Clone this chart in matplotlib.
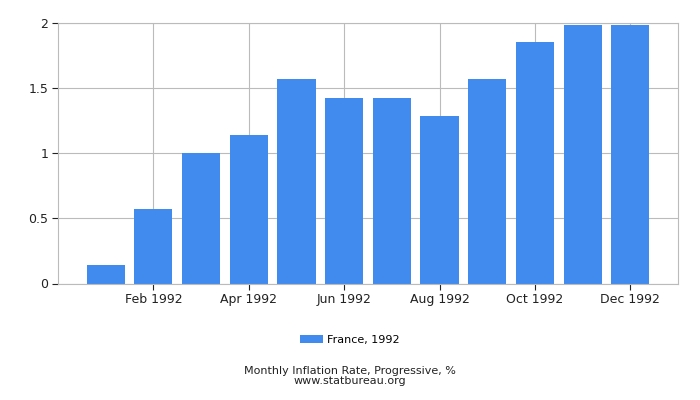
import matplotlib
matplotlib.use("Agg")
import matplotlib.pyplot as plt
from matplotlib.patches import Patch

months = ["Jan 1992", "Feb 1992", "Mar 1992", "Apr 1992", "May 1992", "Jun 1992",
          "Jul 1992", "Aug 1992", "Sep 1992", "Oct 1992", "Nov 1992", "Dec 1992"]
values = [0.14, 0.57, 1.0, 1.14, 1.57, 1.42, 1.42, 1.28, 1.57, 1.85, 1.98, 1.98]
yticks = [0, 0.5, 1, 1.5, 2]
ytick_labels = ["0", "0.5", "1", "1.5", "2"]
series_label = "France, 1992"
title = "Monthly Inflation Rate, Progressive, %"
source = "www.statbureau.org"

bar_color = "#418BEF"
grid_color = "#BBBBBB"

plt.rcParams['font.family'] = ['DejaVu Sans']
fig = plt.figure(figsize=(7, 4), dpi=100)
ax = fig.add_axes([58/700, 1-283.5/400, 620/700, 261/400])

x = list(range(len(values)))
ax.bar(x, values, width=0.8, color=bar_color, zorder=2)
ax.set_xlim(-1, 12)
ax.set_ylim(0, 2)

ax.set_yticks(yticks)
ax.set_yticklabels(ytick_labels, fontsize=9, color="#222222")
xt = x[1::2]
ax.set_xticks(xt)
ax.set_xticklabels([months[i] for i in xt], fontsize=9, color="#222222")

ax.grid(True, color=grid_color, linewidth=0.8, zorder=0)
for s in ax.spines.values():
    s.set_color(grid_color)
    s.set_linewidth(0.8)
ax.tick_params(axis='both', length=4, width=0.8, color="#222222", pad=3)

handles = [Patch(facecolor=bar_color, label=series_label)]
fig.legend(handles=handles, loc='center', bbox_to_anchor=(0.5, 1-340/400),
           frameon=False, fontsize=8, handlelength=2.0, handleheight=0.8,
           handletextpad=0.4)
fig.text(0.5, 1-370.5/400, title, ha='center', va='center', fontsize=8, color="#222222")
fig.text(0.5, 1-381.5/400, source, ha='center', va='center', fontsize=8, color="#222222")

fig.savefig("out.png", dpi=100)
